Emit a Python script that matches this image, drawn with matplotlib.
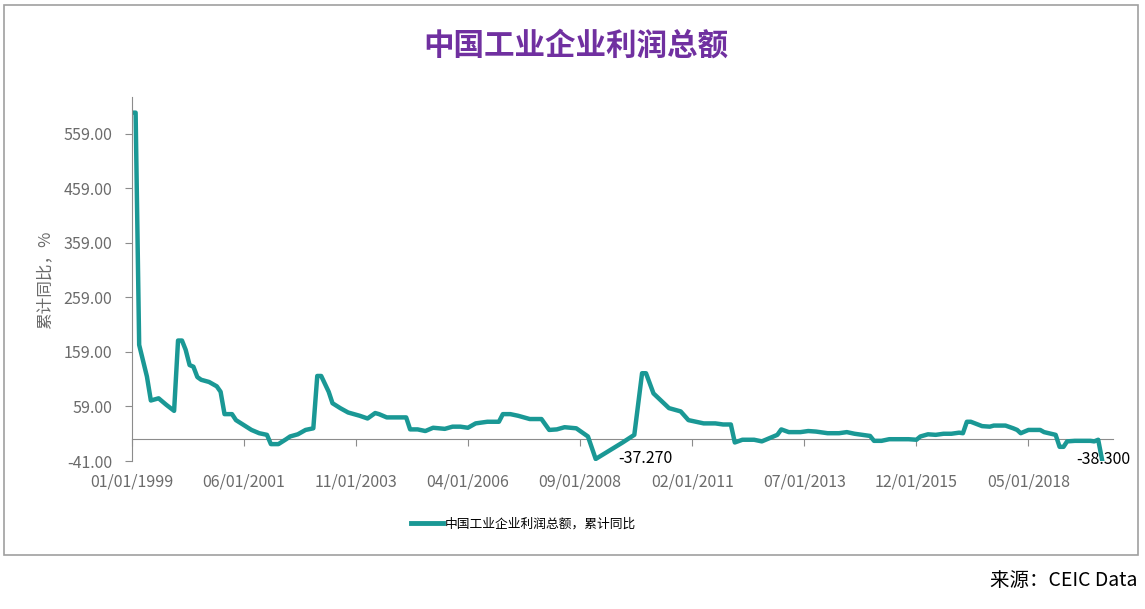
import matplotlib
matplotlib.use("Agg")
import matplotlib.pyplot as plt
from matplotlib.patches import Rectangle
from matplotlib.lines import Line2D
import pandas as pd

plt.rcParams["font.family"] = ["Noto Sans CJK SC", "DejaVu Sans"]

# ── Данные (累计同比, %) ─────────────────────────────────────────────────────
months = [
    "1999-01", "1999-02", "1999-03", "1999-05", "1999-06", "1999-08", "1999-10", "1999-12",
    "2000-01", "2000-02", "2000-03", "2000-04", "2000-05", "2000-06", "2000-07", "2000-09",
    "2000-11", "2000-12", "2001-01", "2001-03", "2001-04", "2001-06", "2001-08", "2001-10",
    "2001-12", "2002-01", "2002-03", "2002-05", "2002-06", "2002-08", "2002-10", "2002-12",
    "2003-01", "2003-02", "2003-04", "2003-05", "2003-07", "2003-09", "2003-12", "2004-02",
    "2004-04", "2004-05", "2004-07", "2004-09", "2004-12", "2005-01", "2005-03", "2005-05",
    "2005-07", "2005-10", "2005-12", "2006-02", "2006-04", "2006-06", "2006-09", "2006-12",
    "2007-01", "2007-03", "2007-05", "2007-08", "2007-11", "2008-01", "2008-03", "2008-05",
    "2008-08", "2008-09", "2008-11", "2009-01", "2009-08", "2009-11", "2010-01", "2010-02",
    "2010-04", "2010-08", "2010-11", "2011-01", "2011-03", "2011-05", "2011-08", "2011-10",
    "2011-12", "2012-01", "2012-03", "2012-06", "2012-08", "2012-10", "2012-12", "2013-01",
    "2013-03", "2013-06", "2013-08", "2013-10", "2014-01", "2014-04", "2014-06", "2014-08",
    "2014-12", "2015-01", "2015-03", "2015-05", "2015-10", "2015-12", "2016-01", "2016-03",
    "2016-05", "2016-07", "2016-09", "2016-11", "2016-12", "2017-01", "2017-02", "2017-05",
    "2017-07", "2017-08", "2017-11", "2018-01", "2018-02", "2018-03", "2018-05", "2018-08",
    "2018-09", "2018-12", "2019-01", "2019-02", "2019-03", "2019-05", "2019-07", "2019-09",
    "2019-10", "2019-11", "2019-12",
]
profit_yoy = [
    598, 598, 172, 114, 70, 74, 62, 51,
    180, 180, 163, 135, 132, 113, 108, 104,
    96, 86, 45, 45, 34, 25, 16, 10,
    7, -10, -10, -1, 4, 8, 16, 19,
    115, 115, 86, 65, 56, 48, 42, 37,
    47, 45, 39, 39, 39, 17, 17, 14,
    20, 18, 22, 22, 20, 28, 31, 31,
    45, 45, 42, 36, 36, 16, 17, 21,
    19, 14, 4, -37.27, -7, 7, 120, 120,
    83, 56, 50, 34, 31, 28, 28, 26,
    26, -7, -2, -2, -5, 1, 7, 17,
    12, 12, 14, 13, 10, 10, 12, 9,
    5, -4, -4, -1, -1, -2, 4, 8,
    7, 9, 9, 11, 10, 31, 31, 23,
    22, 24, 24, 19, 16, 10, 16, 16,
    12, 7, -15, -15, -5, -4, -4, -4,
    -5, -2, -38.3,
]

y_ticks = [-41, 59, 159, 259, 359, 459, 559]
x_tick_dates = ["1999-01-01", "2001-06-01", "2003-11-01", "2006-04-01", "2008-09-01",
                "2011-02-01", "2013-07-01", "2015-12-01", "2018-05-01"]

# подписанные точки: (месяц, значение, текст)
labelled = [("2009-01", -37.27, "-37.270"), ("2019-12", -38.3, "-38.300")]

LINE = "#1A9895"
GREY = "#6b6b6b"
AXIS = "#8c8c8c"

# ── График ───────────────────────────────────────────────────────────────────
dates = pd.to_datetime(months)
x_ticks = pd.to_datetime(x_tick_dates)
y_lo, y_hi = -41, 627

fig = plt.figure(figsize=(11.45, 6.09), dpi=100)
ax = fig.add_axes([0.115, 0.243, 0.857, 0.598])

ax.plot(dates, profit_yoy, color=LINE, lw=3.2, solid_joinstyle="round")

ax.set_ylim(y_lo, y_hi)
ax.set_xlim(pd.Timestamp("1999-01-01"), pd.Timestamp("2020-02-25"))
ax.set_yticks(y_ticks, [f"{v:.2f}" for v in y_ticks])
ax.set_xticks(x_ticks, [d.strftime("%m/%d/%Y") for d in x_ticks])

for s in ("top", "right", "bottom"):
    ax.spines[s].set_visible(False)
ax.spines["left"].set_color(AXIS)
ax.tick_params(axis="y", colors=AXIS, labelcolor=GREY, labelsize=11.5, length=5, pad=9)
ax.tick_params(axis="x", length=0, labelcolor=GREY, labelsize=11.5, pad=9)

# ось X проходит через ноль, подписи внизу
zero_pos = (0 - y_lo) / (y_hi - y_lo)
sec = ax.secondary_xaxis(zero_pos)
sec.set_xticks(x_ticks, [""] * len(x_ticks))
sec.spines["bottom"].set_color(AXIS)
sec.tick_params(axis="x", colors=AXIS, length=5, direction="out")

for m, v, txt in labelled:
    dx = 36 if m == "2009-01" else 1
    ax.annotate(txt, (pd.Timestamp(m), v), xytext=(dx, 0), textcoords="offset points",
                ha="center", va="center", fontsize=11.5, color="black")

# ── Оформление вокруг ────────────────────────────────────────────────────────
fig.text(0.503, 0.926, "中国工业企业利润总额", ha="center", va="center",
         fontsize=22, fontweight="bold", color="#7030A0")
fig.text(45 / 1145, 0.54, "累计同比，%", rotation=90, ha="center", va="center",
         fontsize=12, color=GREY)

handle = Line2D([], [], color=LINE, lw=3.5)
fig.legend([handle], ["中国工业企业利润总额，累计同比"], loc="center",
           bbox_to_anchor=(0.457, 0.1396), frameon=False, fontsize=9.2,
           handlelength=2.5, handletextpad=0.15)

fig.text(0.993, 0.0476, "来源：CEIC Data", ha="right", va="center", fontsize=14)

fig.add_artist(Rectangle((0.0035, 0.0887), 0.990, 0.903, transform=fig.transFigure,
                         fill=False, edgecolor="#a0a0a0", lw=1.2))

fig.savefig("out.png", dpi=100)
